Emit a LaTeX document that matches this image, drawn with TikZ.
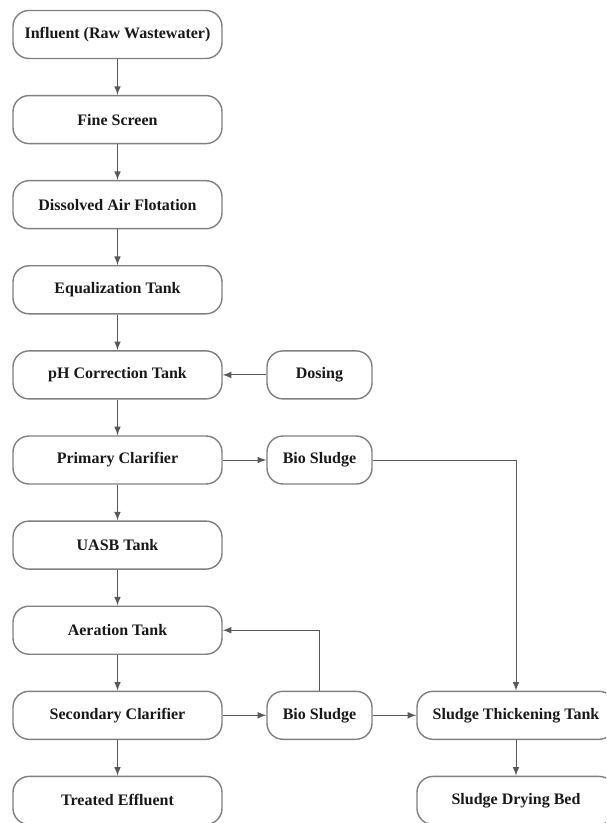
\documentclass[tikz,border=0pt]{standalone}
\usepackage{fontspec}
\setmainfont{Liberation Serif}
\usetikzlibrary{arrows}

\tikzset{
  proc/.style={draw=black!50, line width=0.7pt, rounded corners=8pt, minimum height=24pt,
               inner sep=1pt, text=black!90, font=\bfseries\fontsize{8}{9}\selectfont},
  wide/.style={proc, minimum width=104.5pt},
  small/.style={proc, minimum width=52.5pt},
  thick box/.style={proc, minimum width=99pt},
  flow/.style={draw=black!65, line width=0.5pt, -latex},
}

\begin{document}
\begin{tikzpicture}[x=0.5pt,y=-0.5pt]

\useasboundingbox (0,0) rectangle (606,823);
\clip (0,0) rectangle (606,823);

% main treatment line
\node [wide] (inf)  at (117.5, 34.5) {Influent (Raw Wastewater)};
\node [wide] (fine) at (117.5,119.6) {Fine Screen};
\node [wide] (daf)  at (117.5,204.7) {Dissolved Air Flotation};
\node [wide] (eq)   at (117.5,289.8) {Equalization Tank};
\node [wide] (ph)   at (117.5,374.9) {pH Correction Tank};
\node [wide] (prim) at (117.5,460.0) {Primary Clarifier};
\node [wide] (uasb) at (117.5,545.1) {UASB Tank};
\node [wide] (aer)  at (117.5,630.2) {Aeration Tank};
\node [wide] (sec)  at (117.5,715.3) {Secondary Clarifier};
\node [wide] (eff)  at (117.5,800.4) {Treated Effluent};

% side units
\node [small] (dos) at (319.5,374.9) {Dosing};
\node [small] (bs1) at (319.5,460.0) {Bio Sludge};
\node [small] (bs2) at (319.5,715.3) {Bio Sludge};

% sludge line
\node [thick box] (thk) at (516,715.3) {Sludge Thickening Tank};
\node [thick box] (dry) at (516,800.4) {Sludge Drying Bed};

\foreach \a/\b in {inf/fine, fine/daf, daf/eq, eq/ph, ph/prim, prim/uasb, uasb/aer, aer/sec, sec/eff}
    \draw [flow] (\a) -- (\b);

\draw [flow] (dos) -- (ph);
\draw [flow] (prim) -- (bs1);
\draw [flow] (sec) -- (bs2);
\draw [flow] (bs2) -- (thk);
\draw [flow] (thk) -- (dry);

\draw [flow] (bs1.east) -| (thk.north);
\draw [flow] (bs2.north) |- (aer.east);

\end{tikzpicture}
\end{document}
